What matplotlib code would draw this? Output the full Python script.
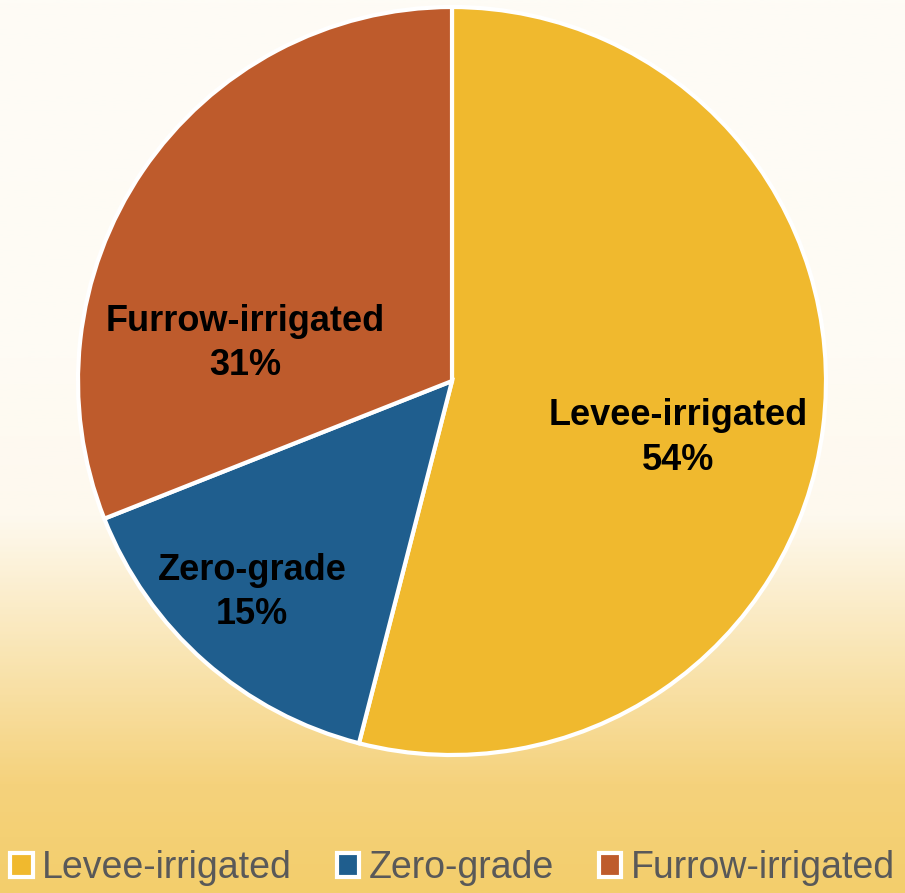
import numpy as np
import matplotlib
matplotlib.use("Agg")
import matplotlib.pyplot as plt
from matplotlib.colors import LinearSegmentedColormap
from matplotlib.patches import Patch

# data
labels = ["Levee-irrigated", "Zero-grade", "Furrow-irrigated"]
shares = [54, 15, 31]
colors = ["#F0B92E", "#1F5E8E", "#BE5B2C"]

# label placement (x, y in units of pie radius)
label_pos = [(0.604, -0.152), (-0.535, -0.565), (-0.553, 0.1)]

plt.rcParams['font.family'] = ['Liberation Sans', 'DejaVu Sans']

fig = plt.figure(figsize=(9.05, 8.93), dpi=100)

# background gradient
bg = fig.add_axes([0, 0, 1, 1], zorder=0)
bg_cmap = LinearSegmentedColormap.from_list(
    "bg", [(0.0, "#F3CE6C"), (0.12, "#F5D27C"), (0.42, "#FEF9EE"),
           (0.6, "#FEFBF4"), (1.0, "#FEFCF6")])
grad = np.linspace(0, 1, 400).reshape(-1, 1)
bg.imshow(grad, aspect='auto', cmap=bg_cmap, origin='lower',
          extent=[0, 1, 0, 1])
bg.axis('off')

# pie
ax = fig.add_axes([78 / 905, (893 - 755) / 893, 748 / 905, 748 / 893], zorder=1)
wedges, _ = ax.pie(shares, colors=colors, startangle=90, counterclock=False,
                   radius=1.0, wedgeprops=dict(edgecolor='white', linewidth=3))
for w in wedges:
    w.set_clip_on(False)
ax.set_xlim(-1.0, 1.0)
ax.set_ylim(-1.0, 1.0)
ax.set_aspect('equal')
ax.axis('off')

for name, val, (x, y) in zip(labels, shares, label_pos):
    ax.text(x, y, f"{name}\n{val}%", ha='center', va='center',
            fontsize=26, fontweight='bold', color='black', linespacing=1.35)

handles = [Patch(facecolor=c, edgecolor='white', linewidth=3) for c in colors]
fig.legend(handles, labels, loc='center', bbox_to_anchor=(0.5, 25 / 893),
           ncol=3, frameon=False, fontsize=27, labelcolor='#595959',
           handlelength=0.6, handleheight=0.6, handletextpad=0.25,
           columnspacing=1.2, borderaxespad=0)

fig.savefig("out.png", dpi=100)
